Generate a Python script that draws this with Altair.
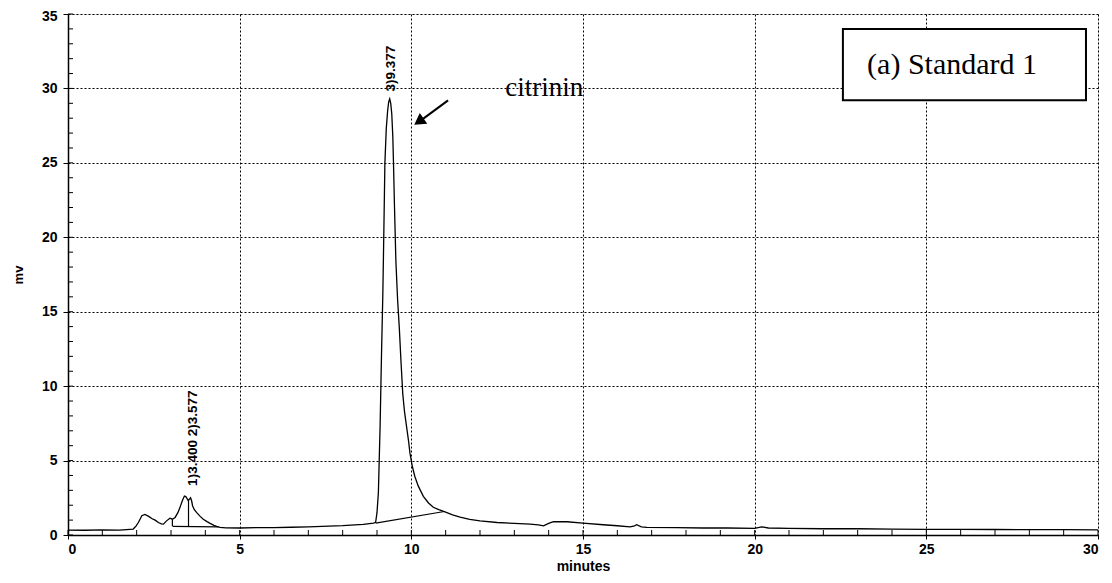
import altair as alt
import pandas as pd

# ---- chromatogram trace (minutes, mV) ----
trace_t = [0.0, 0.5, 1.0, 1.5, 1.9, 1.98, 2.05, 2.15, 2.24, 2.35, 2.44, 2.55, 2.63, 2.72,
           2.78, 2.87, 2.97, 3.04, 3.12, 3.2, 3.26, 3.33, 3.39, 3.43, 3.46, 3.5, 3.54,
           3.57, 3.6, 3.63, 3.68, 3.75, 3.85, 3.94, 4.05, 4.14, 4.25, 4.33, 4.43, 4.6,
           5.0, 5.5, 6.0, 6.5, 7.0, 7.6, 8.0, 8.6, 8.9, 8.96, 9.0, 9.04, 9.09, 9.13,
           9.17, 9.2, 9.23, 9.27, 9.31, 9.34, 9.37, 9.4, 9.43, 9.46, 9.48, 9.51, 9.55,
           9.6, 9.65, 9.7, 9.75, 9.8, 9.86, 9.92, 9.96, 10.03, 10.1, 10.2, 10.35, 10.5,
           10.64, 10.8, 10.98, 11.2, 11.42, 11.7, 12.0, 12.5, 13.0, 13.46, 13.7, 13.85,
           14.0, 14.14, 14.53, 15.0, 15.59, 16.0, 16.37, 16.5, 16.56, 16.7, 16.86,
           17.73, 18.5, 19.2, 20.0, 20.2, 20.4, 21.0, 22.0, 23.0, 24.0, 25.0, 26.0,
           27.0, 28.0, 29.0, 30.0]
trace_mv = [0.33, 0.32, 0.34, 0.33, 0.4, 0.6, 0.84, 1.3, 1.38, 1.25, 1.11, 0.98, 0.84, 0.75,
            0.73, 0.95, 1.13, 1.06, 1.18, 1.5, 1.84, 2.3, 2.62, 2.58, 2.48, 2.32, 2.42,
            2.5, 2.3, 1.95, 1.7, 1.5, 1.25, 1.06, 0.9, 0.78, 0.65, 0.58, 0.51, 0.48,
            0.47, 0.5, 0.5, 0.52, 0.55, 0.6, 0.63, 0.72, 0.8, 0.85, 1.5, 2.84, 7.27, 12.0,
            16.2, 20.5, 25.0, 27.3, 28.5, 29.1, 29.3, 29.0, 28.3, 26.8, 25.0, 22.0, 18.4,
            15.8, 13.9, 11.6, 9.5, 8.3, 7.3, 6.3, 5.5, 4.6, 3.95, 3.3, 2.6, 2.15,
            1.86, 1.7, 1.55, 1.35, 1.2, 1.05, 0.95, 0.84, 0.78, 0.73, 0.68, 0.62,
            0.78, 0.89, 0.89, 0.8, 0.69, 0.62, 0.55, 0.62, 0.69, 0.55, 0.51,
            0.5, 0.47, 0.47, 0.45, 0.55, 0.47, 0.45, 0.42, 0.42, 0.4, 0.38, 0.38,
            0.37, 0.36, 0.36, 0.35]

# ---- integration baselines / drop lines ----
seg_x1 = [3.05, 3.51, 3.04, 8.96]
seg_y1 = [0.58, 0.57, 0.58, 0.80]
seg_x2 = [4.38, 3.51, 3.04, 10.96]
seg_y2 = [0.55, 2.35, 1.06, 1.58]

# ---- peak labels ----
peak_label_t = [3.63, 9.42]
peak_label_mv = [3.3, 29.8]
peak_label_text = ["1)3.400 2)3.577", "3)9.377"]

# ---- annotations ----
citrinin_t, citrinin_mv = [13.87], [30.0]
arrow_t1, arrow_mv1, arrow_t2, arrow_mv2 = [11.07], [29.2], [10.25], [27.8]
arrowhead_t, arrowhead_mv = [10.22], [27.77]
box_t1, box_t2, box_mv1, box_mv2 = [22.57], [29.65], [29.2], [34.0]
box_text_t, box_text_mv = [25.75], [31.6]

x_major = [0, 5, 10, 15, 20, 25, 30]
y_major = [0, 5, 10, 15, 20, 25, 30, 35]
x_minor = list(range(0, 31))
y_minor = list(range(0, 36))

W, H = 1030, 521
FONT = "Liberation Sans"
SERIF = "Liberation Serif"

xs = alt.Scale(domain=[0, 30], nice=False, zero=False)
ys = alt.Scale(domain=[0, 35], nice=False, zero=False)

trace_df = pd.DataFrame({"t": trace_t, "mv": trace_mv})
base = alt.Chart(trace_df)

line = base.mark_line(color="black", strokeWidth=1.3).encode(
    x=alt.X("t:Q", scale=xs, title="minutes",
            axis=alt.Axis(values=x_major, format="d", grid=True, gridColor="black",
                          gridDash=[2, 2], gridWidth=1, gridOpacity=1,
                          domainColor="black", domainWidth=1.5, tickColor="black",
                          tickSize=4, labelPadding=3, labelFont=FONT, labelFontSize=14,
                          labelFontWeight="bold", labelColor="black", titleFont=FONT,
                          titleFontSize=14, titleFontWeight="bold", titleColor="black",
                          titlePadding=3)),
    y=alt.Y("mv:Q", scale=ys, title="mv",
            axis=alt.Axis(values=y_major, format="d", grid=True, gridColor="black",
                          gridDash=[2, 2], gridWidth=1, gridOpacity=1,
                          domainColor="black", domainWidth=1.5, tickColor="black",
                          tickSize=5, labelPadding=6, labelFont=FONT, labelFontSize=14,
                          labelFontWeight="bold", labelColor="black", titleFont=FONT,
                          titleFontSize=13, titleFontWeight="bold", titleColor="black",
                          titlePadding=16,
                          labelOffset={"condition": {"test": "datum.value == 35", "value": 2},
                                       "value": 0})),
    order="t:Q",
)

seg_df = pd.DataFrame({"x1": seg_x1, "y1": seg_y1, "x2": seg_x2, "y2": seg_y2})
segs = alt.Chart(seg_df).mark_rule(color="black", strokeWidth=1.2).encode(
    x=alt.X("x1:Q", scale=xs), y=alt.Y("y1:Q", scale=ys), x2="x2:Q", y2="y2:Q")

xminor = alt.Chart(pd.DataFrame({"t": x_minor})).mark_rule(color="black", strokeWidth=1).encode(
    x=alt.X("t:Q", scale=xs), y=alt.value(H), y2=alt.value(H - 5))
yminor = alt.Chart(pd.DataFrame({"mv": y_minor})).mark_rule(color="black", strokeWidth=1).encode(
    y=alt.Y("mv:Q", scale=ys), x=alt.value(0), x2=alt.value(5))

plabels = alt.Chart(pd.DataFrame({"t": peak_label_t, "mv": peak_label_mv, "txt": peak_label_text})).mark_text(
    angle=270, align="left", baseline="middle", font=FONT, fontSize=13.5, fontWeight="bold", color="black"
).encode(x=alt.X("t:Q", scale=xs), y=alt.Y("mv:Q", scale=ys), text="txt:N")

citrinin = alt.Chart(pd.DataFrame({"t": citrinin_t, "mv": citrinin_mv, "txt": ["citrinin"]})).mark_text(
    font=SERIF, fontSize=27, color="black", align="center", baseline="middle"
).encode(x=alt.X("t:Q", scale=xs), y=alt.Y("mv:Q", scale=ys), text="txt:N")

arrow_line = alt.Chart(pd.DataFrame({"x1": arrow_t1, "y1": arrow_mv1, "x2": arrow_t2, "y2": arrow_mv2})).mark_rule(
    color="black", strokeWidth=2).encode(
    x=alt.X("x1:Q", scale=xs), y=alt.Y("y1:Q", scale=ys), x2="x2:Q", y2="y2:Q")
arrow_head = alt.Chart(pd.DataFrame({"t": arrowhead_t, "mv": arrowhead_mv})).mark_point(
    shape="triangle-up", filled=True, color="black", opacity=1, size=170, angle=235).encode(
    x=alt.X("t:Q", scale=xs), y=alt.Y("mv:Q", scale=ys))

box = alt.Chart(pd.DataFrame({"x1": box_t1, "x2": box_t2, "y1": box_mv1, "y2": box_mv2})).mark_rect(
    fill="white", stroke="black", strokeWidth=2).encode(
    x=alt.X("x1:Q", scale=xs), x2="x2:Q", y=alt.Y("y1:Q", scale=ys), y2="y2:Q")
box_text = alt.Chart(pd.DataFrame({"t": box_text_t, "mv": box_text_mv, "txt": ["(a) Standard 1"]})).mark_text(
    font=SERIF, fontSize=30, color="black", align="center", baseline="middle").encode(
    x=alt.X("t:Q", scale=xs), y=alt.Y("mv:Q", scale=ys), text="txt:N")

chart = alt.layer(line, segs, xminor, yminor, plabels, citrinin, arrow_line, arrow_head, box, box_text).properties(
    width=W, height=H,
    autosize=alt.AutoSizeParams(type="none"),
    padding={"left": 60, "top": 6, "right": 6, "bottom": 40},
).configure_view(stroke="black", strokeWidth=1.5).configure(background="white")

chart.save("out.html", embed_options={"renderer": "svg", "actions": False})
